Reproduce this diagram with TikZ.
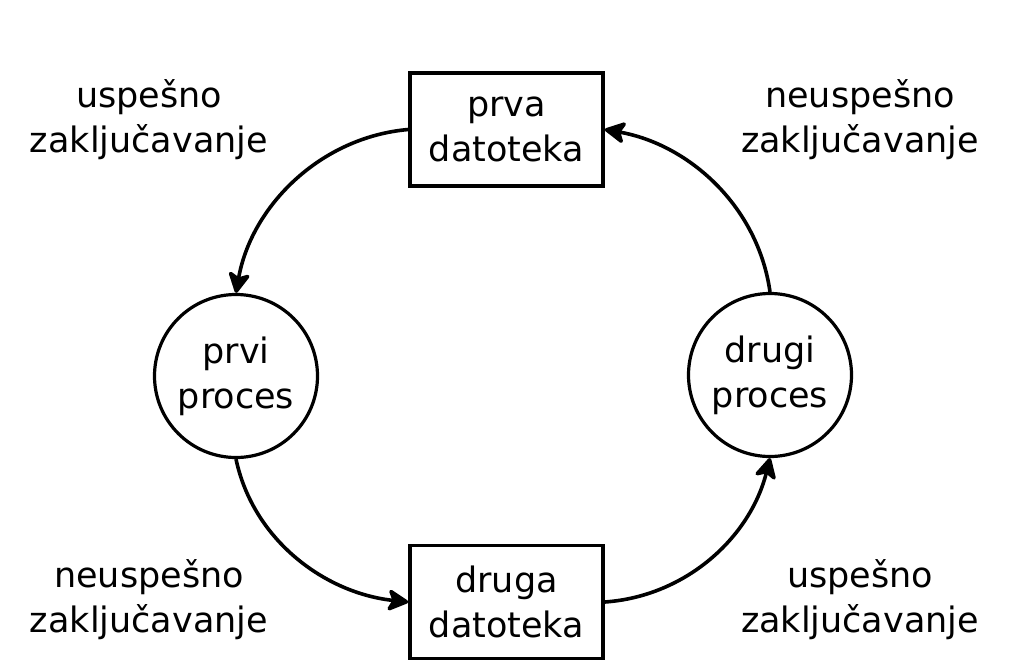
\documentclass[tikz,border=0pt]{standalone}
\usepackage{fontspec}
\setmainfont{DejaVu Sans}
\usepackage{tikz}
\usetikzlibrary{arrows.meta}
\definecolor{lkink}{HTML}{000000}
\tikzset{
  txt/.style={align=center, font=\fontsize{17.5}{22.5}\selectfont, text=lkink},
  fbox/.style={txt, draw=lkink, line width=1.8pt, minimum width=96.5pt, minimum height=56.5pt, inner sep=0pt},
  proc/.style={txt, draw=lkink, line width=1.6pt, circle, minimum size=81.5pt, inner sep=0pt},
  arr/.style={-{Stealth[length=12pt, width=12.5pt, inset=3pt, round]}, line width=1.8pt, color=lkink, looseness=0.95},
  lbl/.style={txt},
}
\begin{document}
\begin{tikzpicture}[x=0.5pt, y=-0.5pt]
  \useasboundingbox (0,0) rectangle (1013,664);
  % datoteke
  \node[fbox] (dat1) at (506.5,129.5) {prva\\datoteka};
  \node[fbox] (dat2) at (506.5,602) {druga\\datoteka};
  % procesi
  \node[proc] (proc1) at (236,376) {prvi\\proces};
  \node[proc] (proc2) at (770,375) {drugi\\proces};
  % zakljucavanja
  \draw[arr] (dat1.west) to[out=185, in=80] (proc1.north);
  \draw[arr] (proc1.south) to[out=-78, in=174] (dat2.west);
  \draw[arr] (dat2.east) to[out=4, in=-104] (proc2.south);
  \draw[arr] (proc2.north) to[out=98, in=-10] (dat1.east);
  \node[lbl] (l1) at (149,120) {uspešno\\zaključavanje};
  \node[lbl] (l2) at (860,120) {neuspešno\\zaključavanje};
  \node[lbl] (l3) at (149,600) {neuspešno\\zaključavanje};
  \node[lbl] (l4) at (860,600) {uspešno\\zaključavanje};
\end{tikzpicture}
\end{document}
